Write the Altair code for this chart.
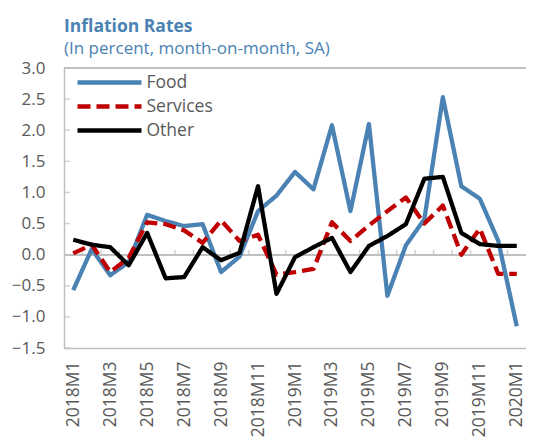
import altair as alt
import pandas as pd

months = ["2018M1", "2018M2", "2018M3", "2018M4", "2018M5", "2018M6", "2018M7",
          "2018M8", "2018M9", "2018M10", "2018M11", "2018M12",
          "2019M1", "2019M2", "2019M3", "2019M4", "2019M5", "2019M6", "2019M7",
          "2019M8", "2019M9", "2019M10", "2019M11", "2019M12", "2020M1"]
food = [-0.57, 0.09, -0.33, -0.12, 0.64, 0.54, 0.46, 0.49, -0.28, -0.03, 0.70, 0.95,
        1.33, 1.05, 2.08, 0.70, 2.10, -0.66, 0.15, 0.57, 2.53, 1.10, 0.90, 0.22, -1.15]
services = [0.02, 0.16, -0.28, -0.05, 0.52, 0.49, 0.39, 0.19, 0.55, 0.22, 0.32, -0.32,
            -0.28, -0.23, 0.52, 0.22, 0.47, 0.70, 0.92, 0.50, 0.79, 0.00, 0.42, -0.31, -0.31]
other = [0.24, 0.16, 0.12, -0.17, 0.35, -0.38, -0.36, 0.12, -0.09, 0.03, 1.10, -0.63,
         -0.04, 0.12, 0.27, -0.28, 0.14, 0.30, 0.49, 1.22, 1.25, 0.35, 0.17, 0.14, 0.14]
series_names = ["Food", "Services", "Other"]
series_colors = ["#4a82b4", "#c00000", "#000000"]
series_dash = [[1, 0], [13, 6], [1, 0]]
y_ticks = [-1.5, -1.0, -0.5, 0.0, 0.5, 1.0, 1.5, 2.0, 2.5, 3.0]

FONT = "Open Sans"
GRAY = "#bfbfbf"
LABEL = "#595959"
BLUE = "#4a82b4"

rows = []
for i, m in enumerate(months):
    for name, vals in zip(series_names, [food, services, other]):
        rows.append({"idx": i, "month": m, "series": name, "value": vals[i]})
df = pd.DataFrame(rows)
month_df = pd.DataFrame({"idx": list(range(len(months))), "month": months})
tick_df = pd.DataFrame({"value": y_ticks})

label_expr = "[" + ",".join(f"'{m}'" for m in months) + "][datum.value]"

x_scale = alt.Scale(domain=[-0.5, len(months) - 0.5], nice=False, zero=False)
y_scale = alt.Scale(domain=[y_ticks[0], y_ticks[-1]], nice=False, zero=False)

x_axis = alt.Axis(values=list(range(0, len(months), 2)), tickCount=100, labelExpr=label_expr,
                  labelAngle=-90, labelAlign="right", labelBaseline="middle",
                  ticks=False, grid=False, domainColor=GRAY, domainWidth=1.5,
                  labelColor=LABEL, labelFontSize=17.5, labelFont=FONT,
                  labelPadding=13, title=None, labelOverlap=False)
y_axis = alt.Axis(values=y_ticks, tickCount=100, format=".1f", ticks=False, grid=False,
                  domainColor=GRAY, domainWidth=1.5, labelColor=LABEL,
                  labelFontSize=17, labelFont=FONT, labelPadding=19,
                  title=None, labelOverlap=False)

legend = alt.Legend(
    title=None, orient="none", legendX=35, legendY=4,
    symbolType="M-4,0L4,0", symbolSize=256, symbolStrokeWidth=4.3,
    labelOffset=26.5, labelFontSize=17.5, labelFont=FONT, labelColor=LABEL,
    rowPadding=4, padding=0, symbolOffset=0, labelLimit=300,
)

lines = alt.Chart(df).mark_line(strokeWidth=4.3, strokeJoin="round").encode(
    x=alt.X("idx:Q", scale=x_scale, axis=x_axis),
    y=alt.Y("value:Q", scale=y_scale, axis=y_axis),
    color=alt.Color("series:N", scale=alt.Scale(domain=series_names, range=series_colors),
                    legend=legend),
    strokeDash=alt.StrokeDash("series:N", scale=alt.Scale(domain=series_names, range=series_dash),
                              legend=legend),
)

zero_line = alt.Chart(month_df).mark_rule(color=GRAY, strokeWidth=1.5).encode(
    y=alt.YDatum(0)
)
top_line = alt.Chart(month_df).mark_rule(color=GRAY, strokeWidth=1.5).encode(
    y=alt.YDatum(y_ticks[-1])
)
zero_ticks = alt.Chart(month_df).transform_filter("datum.idx > 0").transform_calculate(
    idx="datum.idx - 0.5"
).mark_tick(orient="vertical", size=5, thickness=1.5, color=GRAY, yOffset=-2.5).encode(
    x=alt.X("idx:Q"),
    y=alt.YDatum(0),
)
y_inner_ticks = alt.Chart(tick_df).mark_tick(
    orient="horizontal", size=6, thickness=1.5, color=GRAY, xOffset=3
).encode(
    x=alt.XDatum(-0.5),
    y=alt.Y("value:Q"),
)

chart = alt.layer(zero_line, top_line, zero_ticks, y_inner_ticks, lines).properties(
    width=462, height=280,
    autosize=alt.AutoSizeParams(type="none"),
    padding={"left": 56, "top": 60, "right": 0, "bottom": 91},
    title=alt.TitleParams(
        text="Inflation Rates", subtitle="(In percent, month-on-month, SA)",
        anchor="start", frame="group", font=FONT, fontSize=17.5, fontWeight="bold",
        color=BLUE, subtitleFont=FONT, subtitleFontSize=17, subtitleColor=BLUE,
        subtitlePadding=6, offset=2,
    ),
).configure_view(stroke=None).configure_axis(labelOverlap=False)

chart.save("out.html", embed_options={"renderer": "svg", "actions": False})
